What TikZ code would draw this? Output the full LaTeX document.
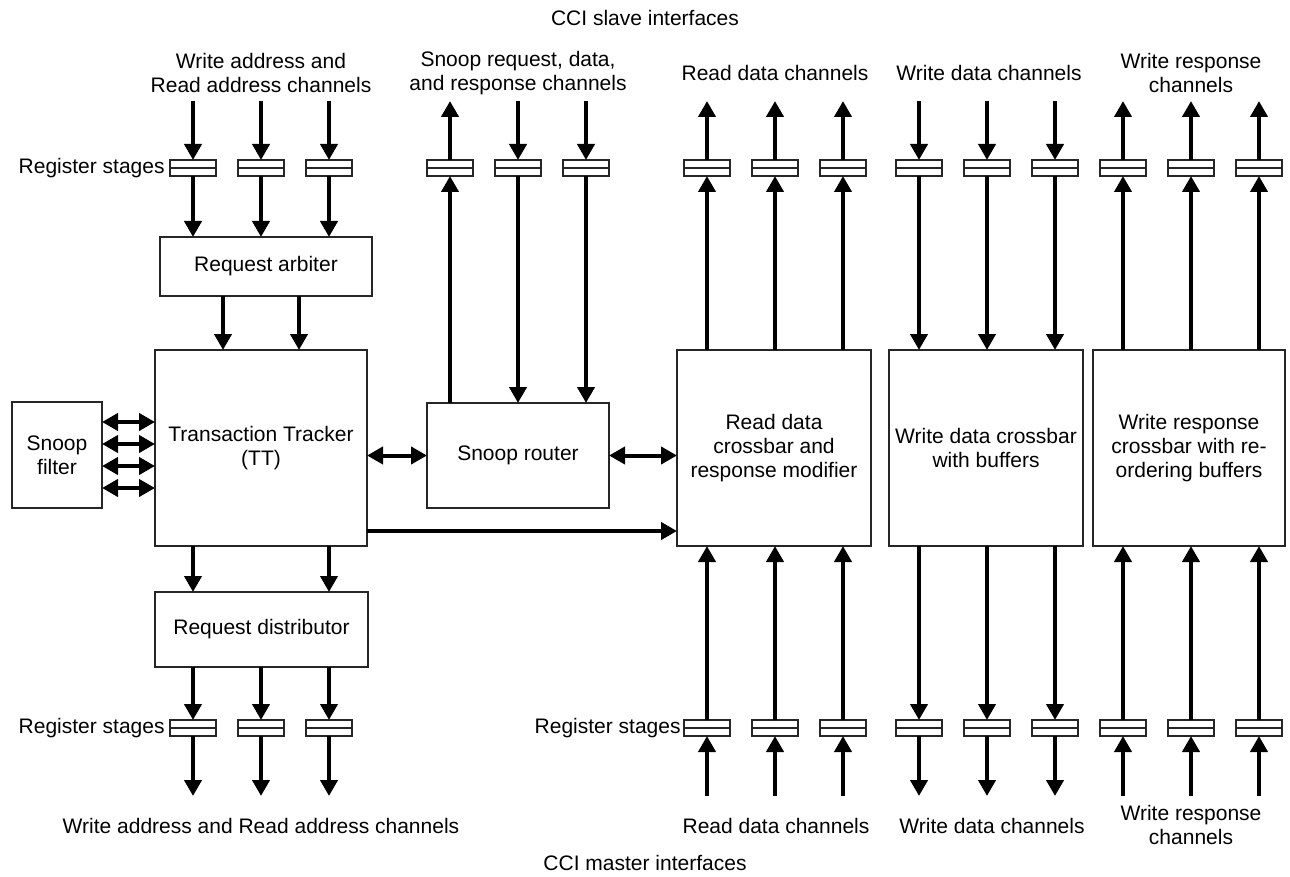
\documentclass[tikz,border=0pt]{standalone}
\usepackage{fontspec}
\setmainfont{Liberation Sans}
\usetikzlibrary{arrows.meta}
\begin{document}
\begin{tikzpicture}[x=0.5pt,y=-0.5pt,
  txt/.style={font=\fontsize{10.5pt}{12.2pt}\selectfont, align=center, inner sep=0pt},
  box/.style={draw=black!85, line width=0.65pt, fill=white, inner sep=0pt, outer sep=0pt, align=center,
              font=\fontsize{10.5pt}{12.2pt}\selectfont},
  reg/.style={draw=black!85, line width=0.6pt, fill=white, minimum width=23pt, minimum height=8pt,
              inner sep=0pt, outer sep=0pt,
              path picture={\draw[black!85,line width=0.6pt] (path picture bounding box.west) -- (path picture bounding box.east);}},
  arr/.style={line width=2pt, -{Triangle[width=8.5pt,length=8pt]}},
  darr/.style={line width=2pt, {Triangle[width=8.5pt,length=8pt]}-{Triangle[width=8.5pt,length=8pt]}},
]
\useasboundingbox (0,0) rectangle (1290,877);

% ---------- blocks ----------
\node[box, minimum width=106pt, minimum height=29.5pt] (ra) at (266,266.5) {Request arbiter};
\node[box, minimum width=106pt, minimum height=98pt] (tt) at (261,448) {Transaction Tracker\\(TT)};
\node[box, minimum width=106.5pt, minimum height=37.5pt] (dist) at (261.5,629.5) {Request distributor};
\node[box, minimum width=45pt, minimum height=53pt] (sf) at (57,455) {Snoop\\filter};
\node[box, minimum width=91pt, minimum height=52.5pt] (sr) at (518,455.5) {Snoop router};
\node[box, minimum width=97pt, minimum height=98pt] (rdx) at (774,448) {Read data\\crossbar and\\response modifier};
\node[box, minimum width=97pt, minimum height=98pt] (wdx) at (986,448) {Write data crossbar\\with buffers};
\node[box, minimum width=96pt, minimum height=98pt] (wrx) at (1189,448) {Write response\\crossbar with re-\\ordering buffers};

% ---------- register stages ----------
\foreach \n/\x in {L1/193,L2/261,L3/329,S1/450,S2/518,S3/586,
                   R1/707,R2/775,R3/843,W1/919,W2/987,W3/1055,P1/1123,P2/1191,P3/1259}{
  \node[reg] (t\n) at (\x,168) {};
  \coordinate (e\n) at (\x,101);
}
\foreach \n/\x in {L1/193,L2/261,L3/329,
                   R1/707,R2/775,R3/843,W1/919,W2/987,W3/1055,P1/1123,P2/1191,P3/1259}{
  \node[reg] (b\n) at (\x,728) {};
  \coordinate (f\n) at (\x,796);
}

% ---------- texts ----------
\node[txt] (cs) at (645,18) {CCI slave interfaces};
\node[txt] (cm) at (645,863) {CCI master interfaces};
\node[txt] (h1) at (261,73) {Write address and\\Read address channels};
\node[txt] (h2) at (518,73) {Snoop request, data,\\and response channels};
\node[txt] (h3) at (775,73) {Read data channels};
\node[txt] (h4) at (989,73) {Write data channels};
\node[txt] (h5) at (1191,73) {Write response\\channels};
\node[txt, anchor=east] (rs1) at (165,168) {Register stages};
\node[txt, anchor=east] (rs2) at (165,728) {Register stages};
\node[txt, anchor=east] (rs3) at (681,728) {Register stages};
\node[txt] (g1) at (261,826) {Write address and Read address channels};
\node[txt] (g2) at (776,826) {Read data channels};
\node[txt] (g3) at (992,826) {Write data channels};
\node[txt] (g4) at (1191,825) {Write response\\channels};

% ---------- left column ----------
\foreach \n in {L1,L2,L3}{
  \draw[arr] (e\n) -- (t\n.north);
  \draw[arr] (t\n.south) -- (t\n.south |- ra.north);
  \draw[arr] (b\n |- dist.south) -- (b\n.north);
  \draw[arr] (b\n.south) -- (f\n);
}
\draw[arr] ([xshift=-19pt]tt.north |- ra.south) -- ([xshift=-19pt]tt.north);
\draw[arr] ([xshift=19pt]tt.north |- ra.south) -- ([xshift=19pt]tt.north);
\draw[arr] (tt.south -| tL1) -- (dist.north -| tL1);
\draw[arr] (tt.south -| tL3) -- (dist.north -| tL3);

% ---------- snoop filter ----------
\foreach \d in {16.5,5.5,-5.5,-16.5}{
  \draw[darr] ([yshift=\d pt]sf.east) -- ([yshift=\d pt]sf.east -| tt.west);
}

% ---------- snoop router ----------
\draw[darr] (sr.west -| tt.east) -- (sr.west);
\draw[darr] (sr.east) -- (sr.east -| rdx.west);
\draw[arr] ([yshift=-41.5pt]tt.east) -- ([yshift=-41.5pt]tt.east -| rdx.west);
\draw[arr] (tS1 |- sr.north) -- (tS1.south);
\draw[arr] (tS1.north) -- (eS1);
\foreach \n in {S2,S3}{
  \draw[arr] (e\n) -- (t\n.north);
  \draw[arr] (t\n.south) -- (t\n.south |- sr.north);
}

% ---------- read data ----------
\foreach \n in {R1,R2,R3}{
  \draw[arr] (t\n |- rdx.north) -- (t\n.south);
  \draw[arr] (t\n.north) -- (e\n);
  \draw[arr] (f\n) -- (b\n.south);
  \draw[arr] (b\n.north) -- (b\n.north |- rdx.south);
}
% ---------- write data ----------
\foreach \n in {W1,W2,W3}{
  \draw[arr] (e\n) -- (t\n.north);
  \draw[arr] (t\n.south) -- (t\n.south |- wdx.north);
  \draw[arr] (b\n |- wdx.south) -- (b\n.north);
  \draw[arr] (b\n.south) -- (f\n);
}
% ---------- write response ----------
\foreach \n in {P1,P2,P3}{
  \draw[arr] (t\n |- wrx.north) -- (t\n.south);
  \draw[arr] (t\n.north) -- (e\n);
  \draw[arr] (f\n) -- (b\n.south);
  \draw[arr] (b\n.north) -- (b\n.north |- wrx.south);
}
\end{tikzpicture}
\end{document}
